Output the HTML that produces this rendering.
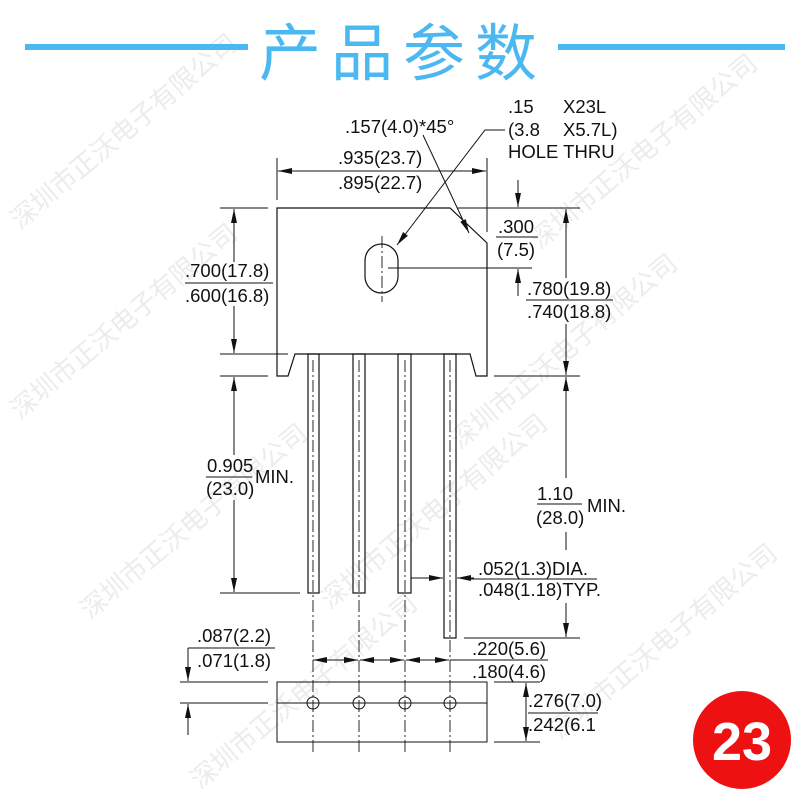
<!DOCTYPE html>
<html><head><meta charset="utf-8"><style>
html,body{margin:0;padding:0;background:#fff;}
svg{display:block}
text{font-family:"Liberation Sans",Arial,sans-serif;fill:#111}
</style></head><body>
<svg width="800" height="800" viewBox="0 0 800 800" xmlns="http://www.w3.org/2000/svg">
<defs>
<marker id="a" viewBox="0 0 14 6" refX="14" refY="3" markerWidth="14" markerHeight="6" orient="auto-start-reverse" markerUnits="userSpaceOnUse"><path d="M0,0 L14,3 L0,6z" fill="#111"/></marker>
</defs>
<!-- watermark -->
<g font-size="26">
<text transform="translate(20,230) rotate(-40)" style="fill:#ececec;font-family:'Noto Sans CJK SC',sans-serif">深圳市正沃电子有限公司</text>
<text transform="translate(20,420) rotate(-40)" style="fill:#ececec;font-family:'Noto Sans CJK SC',sans-serif">深圳市正沃电子有限公司</text>
<text transform="translate(90,620) rotate(-40)" style="fill:#ececec;font-family:'Noto Sans CJK SC',sans-serif">深圳市正沃电子有限公司</text>
<text transform="translate(330,610) rotate(-40)" style="fill:#ececec;font-family:'Noto Sans CJK SC',sans-serif">深圳市正沃电子有限公司</text>
<text transform="translate(200,790) rotate(-40)" style="fill:#ececec;font-family:'Noto Sans CJK SC',sans-serif">深圳市正沃电子有限公司</text>
<text transform="translate(460,450) rotate(-40)" style="fill:#ececec;font-family:'Noto Sans CJK SC',sans-serif">深圳市正沃电子有限公司</text>
<text transform="translate(560,740) rotate(-40)" style="fill:#ececec;font-family:'Noto Sans CJK SC',sans-serif">深圳市正沃电子有限公司</text>
<text transform="translate(540,250) rotate(-40)" style="fill:#ececec;font-family:'Noto Sans CJK SC',sans-serif">深圳市正沃电子有限公司</text>
</g>
<!-- title -->
<rect x="25" y="44" width="223" height="6" fill="#4cb8f2"/>
<rect x="558" y="44" width="227" height="6" fill="#4cb8f2"/>
<text x="403" y="75" text-anchor="middle" font-size="62" style="fill:#4cb8f2;font-family:'Noto Sans CJK SC',sans-serif;letter-spacing:10px">产品参数</text>

<g stroke="#111" stroke-width="1.2" fill="none">
<path d="M277,208 L450,208 L487,243 L487,376 L476,376 L470,354 L295,354 L288,376 L277,376 Z"/>
<rect x="308" y="354" width="11" height="239"/>
<rect x="353" y="354" width="12" height="239"/>
<rect x="398" y="354" width="13" height="239"/>
<rect x="444" y="354" width="12" height="284"/>
<rect x="365" y="244" width="33" height="49" rx="16.5"/>
</g>
<g stroke="#111" stroke-width="0.9" stroke-dasharray="12,3,2,3" fill="none">
<line x1="382" y1="236" x2="382" y2="302"/>
<line x1="313" y1="360" x2="313" y2="752"/>
<line x1="359" y1="360" x2="359" y2="752"/>
<line x1="405" y1="360" x2="405" y2="752"/>
<line x1="450" y1="360" x2="450" y2="752"/>
</g>
<g stroke="#111" stroke-width="1" fill="none">
<line x1="388" y1="268" x2="532" y2="268"/>
<line x1="277" y1="158" x2="277" y2="200"/>
<line x1="487" y1="158" x2="487" y2="232"/>
<line x1="278" y1="171" x2="486" y2="171" marker-start="url(#a)" marker-end="url(#a)"/>
<line x1="220" y1="208" x2="268" y2="208"/>
<line x1="220" y1="354" x2="288" y2="354"/>
<line x1="234" y1="209" x2="234" y2="262" marker-start="url(#a)"/>
<line x1="234" y1="306" x2="234" y2="353" marker-end="url(#a)"/>
<line x1="220" y1="376" x2="268" y2="376"/>
<line x1="220" y1="593" x2="300" y2="593"/>
<line x1="234" y1="377" x2="234" y2="455" marker-start="url(#a)"/>
<line x1="234" y1="500" x2="234" y2="592" marker-end="url(#a)"/>
<line x1="423" y1="135" x2="469" y2="233" marker-end="url(#a)"/>
<polyline points="505,130 485,130 397,245" marker-end="url(#a)"/>
<line x1="518" y1="180" x2="518" y2="207" marker-end="url(#a)"/>
<line x1="518" y1="296" x2="518" y2="269" marker-end="url(#a)"/>
<line x1="457" y1="208" x2="580" y2="208"/>
<line x1="494" y1="376" x2="580" y2="376"/>
<line x1="566" y1="209" x2="566" y2="278" marker-start="url(#a)"/>
<line x1="566" y1="324" x2="566" y2="375" marker-end="url(#a)"/>
<line x1="566" y1="377" x2="566" y2="478" marker-start="url(#a)"/>
<line x1="566" y1="532" x2="566" y2="550"/>
<line x1="464" y1="638" x2="580" y2="638"/>
<line x1="566" y1="603" x2="566" y2="637" marker-end="url(#a)"/>
<line x1="411" y1="578" x2="443" y2="578" marker-end="url(#a)"/>
<line x1="474" y1="578" x2="457" y2="578" marker-end="url(#a)"/>
<line x1="470" y1="579" x2="597" y2="579"/>
<rect x="277" y="682" width="210" height="60"/>
<line x1="277" y1="703" x2="487" y2="703"/>
<circle cx="313" cy="703" r="6"/>
<circle cx="359" cy="703" r="6"/>
<circle cx="405" cy="703" r="6"/>
<circle cx="450" cy="703" r="6"/>
<line x1="313" y1="660" x2="358" y2="660" marker-start="url(#a)" marker-end="url(#a)"/>
<line x1="360" y1="660" x2="404" y2="660" marker-start="url(#a)" marker-end="url(#a)"/>
<line x1="406" y1="660" x2="449" y2="660" marker-start="url(#a)" marker-end="url(#a)"/>
<line x1="450" y1="660" x2="548" y2="660"/>
<line x1="180" y1="682" x2="268" y2="682"/>
<line x1="180" y1="703" x2="268" y2="703"/>
<line x1="188" y1="648" x2="275" y2="648"/>
<line x1="188" y1="648" x2="188" y2="681" marker-end="url(#a)"/>
<line x1="188" y1="735" x2="188" y2="704" marker-end="url(#a)"/>
<line x1="494" y1="682" x2="540" y2="682"/>
<line x1="494" y1="742" x2="540" y2="742"/>
<line x1="526" y1="683" x2="526" y2="741" marker-start="url(#a)" marker-end="url(#a)"/>
<line x1="185" y1="283" x2="273" y2="283"/>
<line x1="496" y1="237" x2="538" y2="237"/>
<line x1="526" y1="300" x2="613" y2="300"/>
<line x1="206" y1="477" x2="252" y2="477"/>
<line x1="537" y1="504" x2="582" y2="504"/>
<line x1="528" y1="713" x2="598" y2="713"/>
</g>
<g font-size="18.5">
<text x="345" y="133">.157(4.0)*45°</text>
<text x="508" y="113">.15</text><text x="563" y="113">X23L</text>
<text x="508" y="136">(3.8</text><text x="563" y="136">X5.7L)</text>
<text x="508" y="158">HOLE THRU</text>
<text x="338" y="164">.935(23.7)</text>
<text x="338" y="189">.895(22.7)</text>
<text x="185" y="277">.700(17.8)</text>
<text x="185" y="302">.600(16.8)</text>
<text x="498" y="233">.300</text>
<text x="497" y="256">(7.5)</text>
<text x="527" y="295">.780(19.8)</text>
<text x="527" y="318">.740(18.8)</text>
<text x="207" y="472">0.905</text>
<text x="206" y="495">(23.0)</text><text x="255" y="483">MIN.</text>
<text x="537" y="500">1.10</text>
<text x="536" y="524">(28.0)</text><text x="587" y="512">MIN.</text>
<text x="478" y="575">.052(1.3)DIA.</text>
<text x="478" y="596">.048(1.18)TYP.</text>
<text x="197" y="642">.087(2.2)</text>
<text x="197" y="667">.071(1.8)</text>
<text x="472" y="655">.220(5.6)</text>
<text x="472" y="678">.180(4.6)</text>
<text x="528" y="707">.276(7.0)</text>
<text x="528" y="731">.242(6.1</text>
</g>
<circle cx="742" cy="740" r="49" fill="#ee1111"/>
<text x="742" y="760" text-anchor="middle" font-size="54" font-weight="bold" style="fill:#fff">23</text>
</svg>
</body></html>
